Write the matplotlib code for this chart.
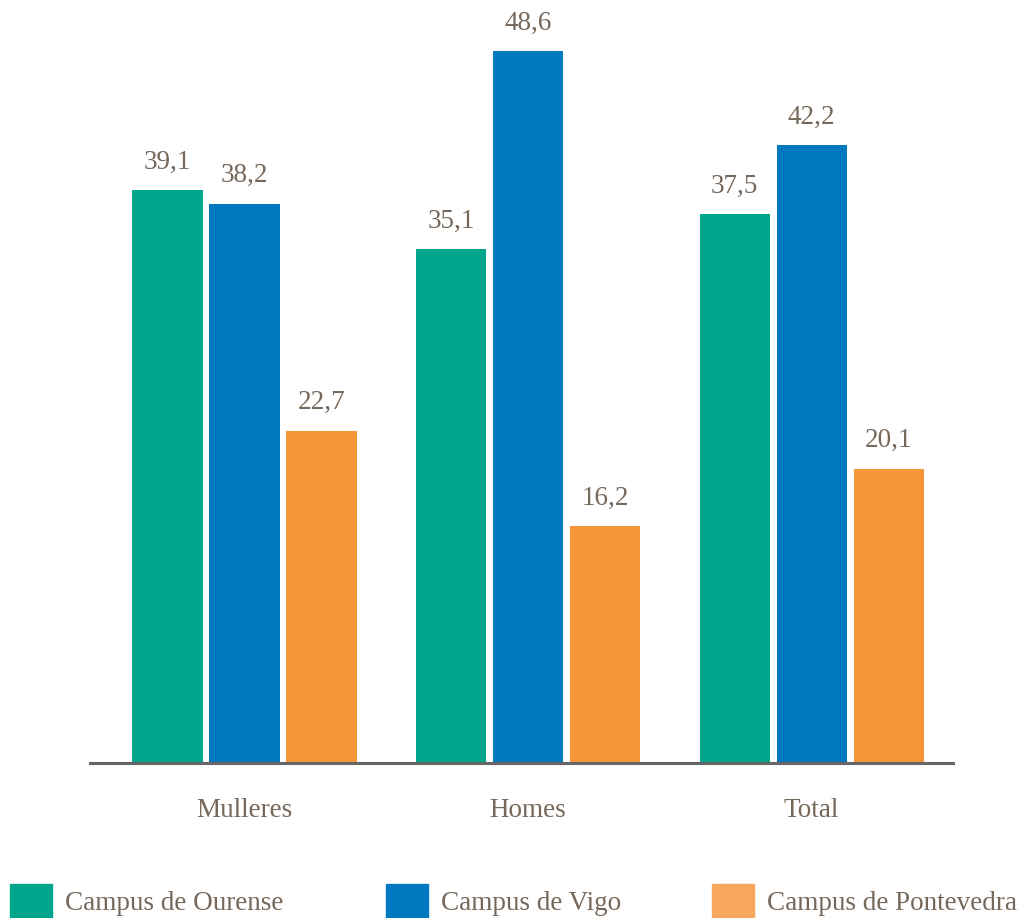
import numpy as np
import matplotlib.pyplot as plt
from matplotlib.patches import Rectangle

plt.rcParams['font.family'] = ['Liberation Serif', 'DejaVu Serif']

categories = ['Mulleres', 'Homes', 'Total']
series = ['Campus de Ourense', 'Campus de Vigo', 'Campus de Pontevedra']
ourense = [39.1, 35.1, 37.5]
vigo = [38.2, 48.6, 42.2]
pontevedra = [22.7, 16.2, 20.1]

bar_colors = ['#00a68c', '#0079c1', '#f7953a']
legend_colors = ['#00a68c', '#0079c1', '#f8a65e']
txt = '#76685a'

W, H = 1035, 918
fig = plt.figure(figsize=(W / 100, H / 100), dpi=100)
# axes placed in pixel terms: x 90..953, y 30..762 (baseline)
ax = fig.add_axes([90 / W, 1 - 763 / H, (953 - 90) / W, (763 - 30) / H])

x = np.arange(len(categories))
step = 0.2716
width = 0.247
for i, vals in enumerate([ourense, vigo, pontevedra]):
    pos = x + (i - 1) * step
    ax.bar(pos, vals, width, color=bar_colors[i])
    for p, v in zip(pos, vals):
        ax.annotate(f'{v:.1f}'.replace('.', ','), (p, v), xytext=(0, 11),
                    textcoords='offset points', ha='center', va='bottom',
                    fontsize=19.5, color=txt)

ax.set_xlim(-0.545, 2.499)
ax.set_ylim(0, 50.05)
for s in ['top', 'right', 'left']:
    ax.spines[s].set_visible(False)
ax.spines['bottom'].set_color('#666666')
ax.spines['bottom'].set_linewidth(2.2)
ax.set_yticks([])
ax.set_xticks(x)
ax.set_xticklabels(categories, fontsize=19.5, color=txt)
ax.tick_params(axis='x', length=0, pad=25)

# legend row along the bottom
leg_x = [10, 386, 712]
for i, name in enumerate(series):
    fig.patches.append(Rectangle((leg_x[i] / W, 0), 42 / W, 34 / H,
                                 transform=fig.transFigure,
                                 color=legend_colors[i]))
    fig.text((leg_x[i] + 55) / W, 1 - 903 / H, name, fontsize=19.5,
             color=txt, ha='left', va='center')

plt.savefig('out.png', dpi=100)
